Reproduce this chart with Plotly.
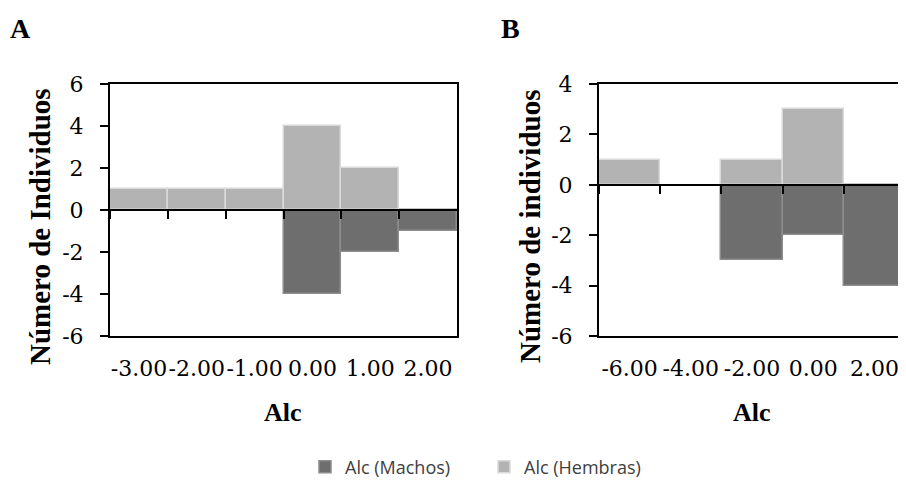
import plotly.graph_objects as go

W, H = 906, 481
OFF = 8  # page body margin offset of the rendered figure

# ---- data ----
cats_a = ["-3.00", "-2.00", "-1.00", "0.00", "1.00", "2.00"]
machos_a = [None, None, None, -4, -2, -1]
hembras_a = [1, 1, 1, 4, 2, None]

cats_b = ["-6.00", "-4.00", "-2.00", "0.00", "2.00"]
machos_b = [None, None, -3, -2, -4]
hembras_b = [1, None, 1, 3, None]

yticks_a = [-6, -4, -2, 0, 2, 4, 6]
yticks_b = [-6, -4, -2, 0, 2, 4]

C_M, C_M_EDGE = "#6e6e6e", "#8c8c8c"
C_H, C_H_EDGE = "#b3b3b3", "#dadada"
SERIF = "Liberation Serif"
TICK_SERIF = "DejaVu Serif"
SANS = "Open Sans"


def px(x):
    return (x - OFF) / W


def py(y):
    return 1 - (y - OFF) / H


# plot area domains (screen pixels)
ya = [py(336), py(84)]
xa_dom = [px(110), px(457)]
xb_dom = [px(599), px(905)]

fig = go.Figure()

fig.add_trace(go.Bar(x=cats_a, y=machos_a, name="Alc (Machos)", xaxis="x", yaxis="y",
                     marker=dict(color=C_M, line=dict(color=C_M_EDGE, width=1.5)),
                     legendgroup="m"))
fig.add_trace(go.Bar(x=cats_a, y=hembras_a, name="Alc (Hembras)", xaxis="x3", yaxis="y",
                     marker=dict(color=C_H, line=dict(color=C_H_EDGE, width=1.5)),
                     legendgroup="h"))
fig.add_trace(go.Bar(x=cats_b, y=machos_b, name="Alc (Machos)", xaxis="x2", yaxis="y2",
                     marker=dict(color=C_M, line=dict(color=C_M_EDGE, width=1.5)),
                     legendgroup="m", showlegend=False))
fig.add_trace(go.Bar(x=cats_b, y=hembras_b, name="Alc (Hembras)", xaxis="x4", yaxis="y2",
                     marker=dict(color=C_H, line=dict(color=C_H_EDGE, width=1.5)),
                     legendgroup="h", showlegend=False))


def tf():
    return dict(family=TICK_SERIF, size=22, color="black")


def common_x():
    return dict(type="category", showline=True, linecolor="black", linewidth=2,
                mirror=True, ticks="", showgrid=False, tickfont=tf(), tickangle=0,
                ticklabelstandoff=12, fixedrange=True)


def common_zero():
    return dict(type="category", showline=True, linecolor="black", linewidth=2,
                ticks="outside", tickson="boundaries", ticklen=8, tickwidth=2,
                tickcolor="black", showticklabels=False, showgrid=False,
                anchor="free", mirror=False)


def common_y():
    return dict(showline=True, linecolor="black", linewidth=2, mirror=True,
                ticks="outside", ticklen=8, tickwidth=2, tickcolor="black",
                showgrid=False, zeroline=False, tickfont=tf(),
                ticklabelstandoff=12, domain=ya)


zero_a = ya[0] + (0 - (-6)) / 12 * (ya[1] - ya[0])
zero_b = ya[0] + (0 - (-6)) / 10 * (ya[1] - ya[0])

fig.update_layout(
    width=W, height=H,
    font=dict(family=TICK_SERIF, size=22, color="black"),
    margin=dict(l=0, r=0, t=0, b=0, autoexpand=False),
    paper_bgcolor="white", plot_bgcolor="white",
    barmode="overlay", bargap=0,
    xaxis=dict(common_x(), domain=xa_dom, anchor="y", categoryorder="array",
               categoryarray=cats_a, range=[-0.5, len(cats_a) - 0.5]),
    xaxis3=dict(common_zero(), overlaying="x", position=zero_a, categoryorder="array",
                categoryarray=cats_a, range=[-0.5, len(cats_a) - 0.5], domain=xa_dom),
    yaxis=dict(common_y(), anchor="x", range=[-6, 6], tickvals=yticks_a,
               ticktext=[str(v) for v in yticks_a]),
    xaxis2=dict(common_x(), domain=xb_dom, anchor="y2", categoryorder="array",
                categoryarray=cats_b, range=[-0.5, len(cats_b) - 0.5]),
    xaxis4=dict(common_zero(), overlaying="x2", position=zero_b, categoryorder="array",
                categoryarray=cats_b, range=[-0.5, len(cats_b) - 0.5], domain=xb_dom),
    yaxis2=dict(common_y(), anchor="x2", range=[-6, 4], tickvals=yticks_b,
                ticktext=[str(v) for v in yticks_b]),
    showlegend=True,
    legend=dict(orientation="h", x=px(484), xanchor="center", y=py(467), yanchor="middle",
                font=dict(family=SANS, size=18, color="#404040"),
                entrywidth=134, entrywidthmode="pixels",
                traceorder="normal", bgcolor="rgba(0,0,0,0)"),
)

ann = []
ann.append(dict(text="<b>A</b>", x=px(20), y=py(28), xref="paper", yref="paper",
                xanchor="center", yanchor="middle",
                showarrow=False, font=dict(family=SERIF, size=28, color="black")))
ann.append(dict(text="<b>B</b>", x=px(510), y=py(28), xref="paper", yref="paper",
                xanchor="center", yanchor="middle",
                showarrow=False, font=dict(family=SERIF, size=28, color="black")))
ann.append(dict(text="<b>Alc</b>", x=px(283), y=py(412), xref="paper", yref="paper",
                xanchor="center", yanchor="middle",
                showarrow=False, font=dict(family=SERIF, size=26, color="black")))
ann.append(dict(text="<b>Alc</b>", x=px(752), y=py(412), xref="paper", yref="paper",
                xanchor="center", yanchor="middle",
                showarrow=False, font=dict(family=SERIF, size=26, color="black")))
ann.append(dict(text="<b>Número de Individuos</b>", x=px(40), y=py(227), xref="paper",
                yref="paper", showarrow=False, textangle=-90,
                xanchor="center", yanchor="middle",
                font=dict(family=SERIF, size=29, color="black")))
ann.append(dict(text="<b>Número de individuos</b>", x=px(530), y=py(227), xref="paper",
                yref="paper", showarrow=False, textangle=-90,
                xanchor="center", yanchor="middle",
                font=dict(family=SERIF, size=29, color="black")))
fig.update_layout(annotations=ann)

fig.write_html("out.html")
